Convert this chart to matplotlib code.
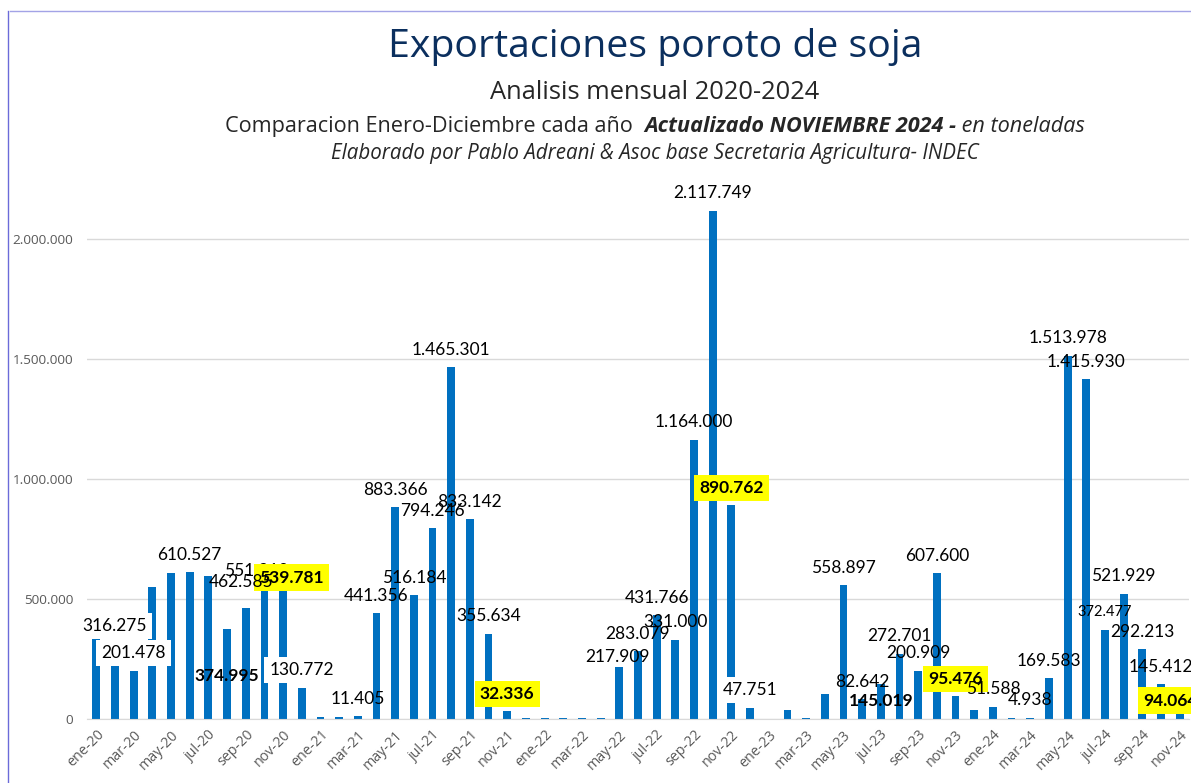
import matplotlib
matplotlib.use("Agg")
import matplotlib.pyplot as plt
from matplotlib.lines import Line2D

# datos: exportaciones mensuales de poroto de soja (toneladas)
meses = ["ene", "feb", "mar", "abr", "may", "jun", "jul", "ago", "sep", "oct", "nov", "dic"]
anios = ["20", "21", "22", "23", "24"]
periodos = [f"{m}-{a}" for a in anios for m in meses][:59]

exportaciones = [
    # 2020
    333000, 316275, 201478, 550000, 608000, 610527, 596000, 374995, 462585, 551310, 539781, 130772,
    # 2021
    8000, 8000, 11405, 441356, 883366, 516184, 794246, 1465301, 833142, 355634, 32336, 4000,
    # 2022
    3000, 3000, 3000, 3000, 217909, 283079, 431766, 331000, 1164000, 2117749, 890762, 47751,
    # 2023
    0, 37000, 4000, 105000, 558897, 82642, 145019, 272701, 200909, 607600, 95476, 36000,
    # 2024
    51588, 4000, 4938, 169583, 1513978, 1415930, 372477, 521929, 292213, 145412, 94064,
]

# meses con etiqueta visible en el original
con_etiqueta = [1, 2, 5, 7, 8, 9, 10, 11,
                14, 15, 16, 17, 18, 19, 20, 21, 22,
                28, 29, 30, 31, 32, 33, 34, 35,
                40, 41, 42, 43, 44, 45, 46, 48, 50,
                51, 52, 53, 54, 55, 56, 57, 58]

# estilos de etiqueta
resaltadas = {10, 22, 34, 46, 58}      # fondo amarillo, negrita
fondo_blanco = {1, 2, 11, 35}
negrita = {7, 42}
chicas = {54}
tapadas = {9}                           # quedan debajo del recuadro amarillo
# desplazamientos manuales (puntos) de algunas etiquetas
ajustes = {7: (0, -34), 8: (-3.6, 18.7), 9: (-6, 11), 10: (5.8, 8.6), 28: (-1.5, 7.2),
           42: (0, -12.2), 58: (-7, -3)}

AZUL = "#0070C0"
GRIS = "#595959"

W, H = 1191, 783
fig = plt.figure(figsize=(W / 100, H / 100), dpi=100)
fig.patch.set_facecolor("white")

ax = fig.add_axes([87 / W, 1 - 719 / H, (1189 - 87) / W, (719 - 179) / H])
x = list(range(len(periodos)))
ax.bar(x, exportaciones, width=0.42, color=AZUL, zorder=2)

ax.set_xlim(-0.5, len(periodos) - 0.5)
ax.set_ylim(0, 2250000)
ticks_y = [0, 500000, 1000000, 1500000, 2000000]
ax.set_yticks(ticks_y)
ax.set_yticklabels([f"{t:,}".replace(",", ".") for t in ticks_y],
                   fontsize=9.7, color=GRIS, family="Open Sans")
ax.set_xticks(x[::2])
ax.set_xticklabels(periodos[::2], fontsize=10.3, color=GRIS, family="Open Sans",
                   rotation=45, ha="right", rotation_mode="anchor")
ax.tick_params(axis="both", length=0)
ax.tick_params(axis="y", pad=10)
ax.tick_params(axis="x", pad=6)
ax.grid(axis="y", color="#D9D9D9", linewidth=1, zorder=0)
for lado in ["top", "right", "left"]:
    ax.spines[lado].set_visible(False)
ax.spines["bottom"].set_color("#D9D9D9")

for i in con_etiqueta:
    v = exportaciones[i]
    texto = f"{v:,}".replace(",", ".")
    dx, dy = ajustes.get(i, (0, 12.5))
    kw = dict(fontsize=12.5, family="Lato", color="black", ha="center", va="center",
              textcoords="offset points", zorder=6, annotation_clip=False)
    if i in resaltadas:
        kw.update(fontweight="bold", zorder=4,
                  bbox=dict(boxstyle="square,pad=0.3", facecolor="#FFFF00", edgecolor="none"))
    elif i in fondo_blanco:
        kw.update(zorder=5,
                  bbox=dict(boxstyle="square,pad=0.3", facecolor="white", edgecolor="none"))
    elif i in negrita:
        kw.update(fontweight="bold")
    if i in chicas:
        kw.update(fontsize=10.5)
    if i in tapadas:
        kw.update(zorder=3)
    ax.annotate(texto, xy=(i, v), xytext=(dx, dy), **kw)

# encabezado
cx = 655 / W
fig.text(cx, 1 - 57 / H, "Exportaciones poroto de soja", ha="center", va="baseline",
         fontsize=28.3, family="Open Sans", color="#0B2F5E")
fig.text(cx, 1 - 99 / H, "Analisis mensual 2020-2024", ha="center", va="baseline",
         fontsize=18.4, family="Open Sans", color="#262626")

partes = [("Comparacion Enero-Diciembre cada año  ", "normal", "normal"),
          ("Actualizado NOVIEMBRE 2024 -", "bold", "italic"),
          (" en toneladas", "normal", "italic")]
objs = [fig.text(0, 1 - 132 / H, t, ha="left", va="baseline", fontsize=15.6,
                 family="Open Sans", fontweight=w, style=s, color="#262626")
        for t, w, s in partes]
fig.canvas.draw()
r = fig.canvas.get_renderer()
anchos = [o.get_window_extent(r).width for o in objs]
x0 = 655 - sum(anchos) / 2
for o, a in zip(objs, anchos):
    o.set_x(x0 / W)
    x0 += a

fig.text(cx, 1 - 159 / H,
         "Elaborado por Pablo Adreani & Asoc base Secretaria Agricultura- INDEC",
         ha="center", va="baseline", fontsize=14.8, family="Open Sans", style="italic",
         color="#262626")

# marco
fig.add_artist(Line2D([10 / W, 1], [1 - 11 / H] * 2, transform=fig.transFigure,
                      color="#A3A3E6", linewidth=1))
fig.add_artist(Line2D([8 / W] * 2, [0, 1 - 11 / H], transform=fig.transFigure,
                      color="#6B6BD9", linewidth=1))

fig.savefig("out.png", dpi=100)
